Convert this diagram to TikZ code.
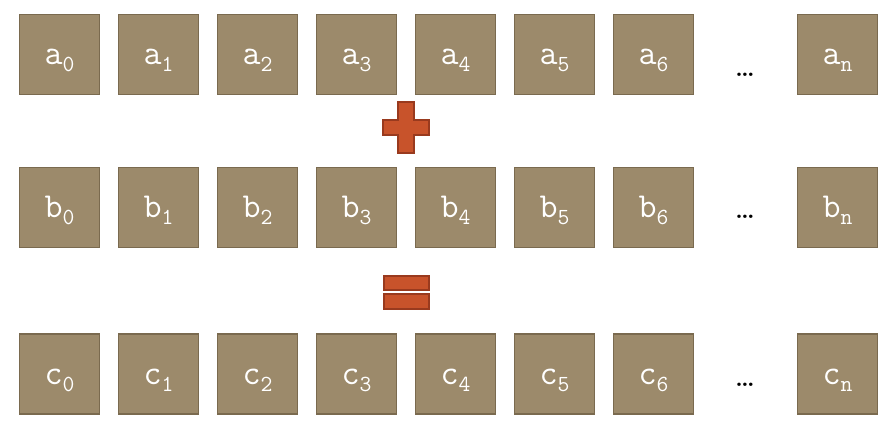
\documentclass[tikz,border=0pt]{standalone}
\usepackage{fontspec}
\definecolor{cellfill}{HTML}{9C8A6B}
\definecolor{cellline}{HTML}{7A6A4F}
\definecolor{opfill}{HTML}{C8532B}
\definecolor{opline}{HTML}{993A1E}
\newcommand{\sublabel}[2]{#1\raisebox{-7pt}{\fontsize{23}{23}\selectfont #2}}

\begin{document}
\begin{tikzpicture}[x=1pt,y=-1pt]
			\tikzstyle{cell} = [draw=cellline, fill=cellfill, line width=1.5pt, minimum size=80pt, inner sep=0pt, text height=31pt, text depth=10pt, text=white, font=\ttfamily\fontsize{35}{35}\selectfont]
			\tikzstyle{dots} = [anchor=base, font=\fontsize{24}{24}\selectfont\bfseries]
			\tikzstyle{op} = [draw=opline, fill=opfill, line width=1.5pt]
			\useasboundingbox (0,0) rectangle (892,430);
			% three rows of cells
			\foreach \r/\y/\dy in {a/54.5/77, b/207.5/219, c/374/386} {
				\foreach \i in {0,...,6}
				\node[cell] (\r\i) at (59.5+99*\i, \y) {\sublabel{\r}{\i}};
				\node[dots] (\r dots) at (745, \dy) {\ldots};
				\node[cell] (\r n) at (837.5, \y) {\sublabel{\r}{n}};
			}
			% plus and equals
			\draw[op] (398,102) -- (414,102) -- (414,120) -- (429,120) -- (429,135) -- (414,135) -- (414,153) -- (398,153) -- (398,135) -- (383,135) -- (383,120) -- (398,120) -- cycle;
			\draw[op] (384,276) rectangle (429,290);
			\draw[op] (384,294) rectangle (429,309);
			\end{tikzpicture}
\end{document}
